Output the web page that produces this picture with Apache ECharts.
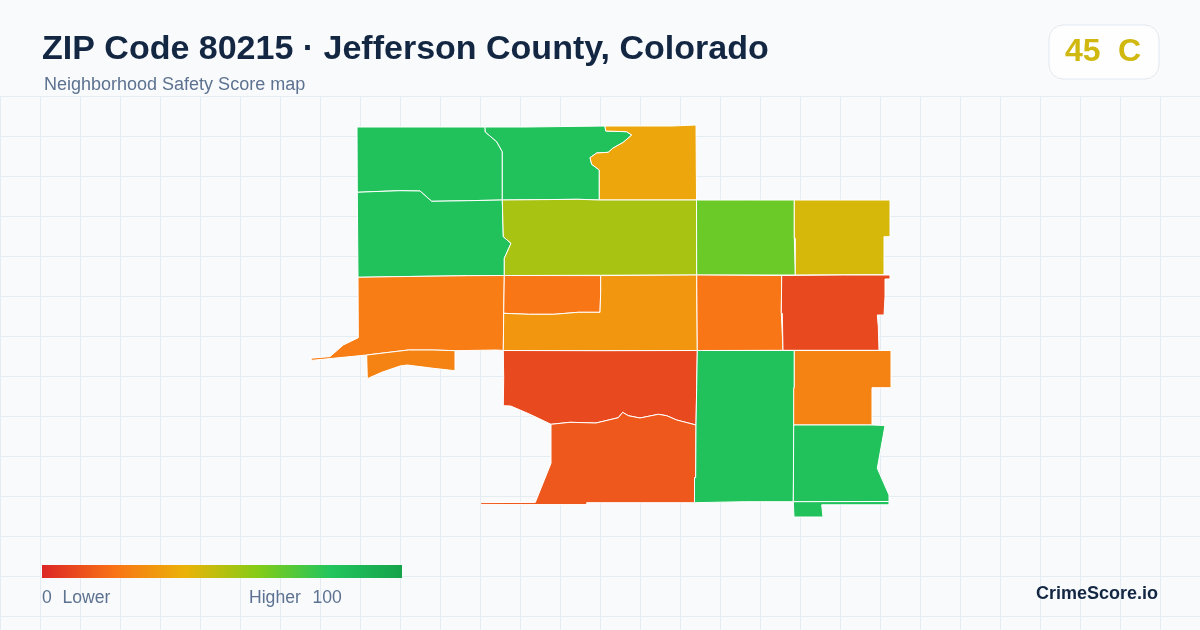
<!DOCTYPE html>
<html>
<head>
<meta charset="utf-8">
<title>ZIP Code 80215 Neighborhood Safety Score</title>
<script src="https://cdn.jsdelivr.net/npm/echarts@6/dist/echarts.min.js"></script>
<style>
    html, body { margin: 0; padding: 0; background: #f8fafc; }
    #page { position: relative; width: 1200px; height: 630px; overflow: hidden; }
    /* 배경 격자 */
    #gridBg {
        position: absolute; left: 0; top: 96px; width: 1200px; height: 534px;
        background-image:
            linear-gradient(to right, #e6edf2 1px, transparent 1px),
            linear-gradient(to bottom, #e6edf2 1px, transparent 1px);
        background-size: 40px 40px;
    }
    #mapChart { position: absolute; left: 0; top: 0; width: 1200px; height: 630px; }
</style>
</head>
<body>
<div id="page">
    <div id="gridBg"></div>
    <div id="mapChart"></div>
</div>
<script>
const titleText = 'ZIP Code 80215 · Jefferson County, Colorado';
const subtitleText = 'Neighborhood Safety Score map';
const overallScore = '45';
const overallGrade = 'C';
const scaleMin = 0;
const scaleMax = 100;
const scaleColors = ['#dc2626', '#f97316', '#eab308', '#84cc16', '#22c55e', '#16a34a'];

const tractNames = ['NW', 'N', 'NE', 'WC', 'C', 'EC1', 'EC2', 'W', 'WS', 'CS1', 'CS2', 'ES1', 'ES2',
    'S1', 'S2', 'SC', 'SE1', 'SE2', 'SE3'];
const tractScores = [82, 82, 36, 82, 53, 65, 44, 23, 25, 21, 31, 21, 9, 9, 13, 82, 25, 82, 82];

// 그림에서 따온 경계선
const tractOutlines = [
    [[357,127],[485,127],[485.3,132],[496.7,141.7],[502.3,151.7],[502.3,200],[468.3,200.7],[431.7,201.3],[420,191],[400,190.7],[371.7,191.7],[357.3,192.3]],
    [[485,127],[526,127],[526,126],[605,126],[605.7,131],[626.7,131.7],[631.7,135],[623.3,142.3],[612.7,148.3],[608.3,152.3],[596.7,153],[590,157.7],[591.7,164.3],[599.3,170],[599.3,200],[578.3,199.3],[502.3,200],[502.3,151.7],[496.7,141.7],[485.3,132]],
    [[605,126],[672,126],[672,125],[696,125],[696.5,200],[599.3,200],[599.3,170],[591.7,164.3],[590,157.7],[596.7,153],[608.3,152.3],[612.7,148.3],[623.3,142.3],[631.7,135],[626.7,131.7],[605.7,131]],
    [[357.3,192.3],[371.7,191.7],[400,190.7],[420,191],[431.7,201.3],[468.3,200.7],[502.3,200],[502.7,215],[503.3,236.7],[511,243.3],[504.3,258.3],[504.3,275.5],[468.3,275.7],[394.3,276.7],[358,277.3]],
    [[502.3,200],[578.3,199.3],[599.3,200],[696.5,200],[696.7,275],[504.3,275.5],[504.3,258.3],[511,243.3],[503.3,236.7],[502.7,215]],
    [[696.5,200],[749.3,200],[794.3,200],[794.3,238.3],[795.3,238.3],[795.3,275],[696.7,275]],
    [[794.3,200],[890,200],[890,236.7],[884,236.7],[884,274.7],[795.3,275],[795.3,238.3],[794.3,238.3]],
    [[358,277.3],[394.3,276.7],[468.3,275.7],[504.3,275.5],[503.7,313.3],[503.3,350.5],[496.7,350],[455,350.7],[433.3,350],[408.3,350],[400,351],[366.7,355],[330,358.6],[311.2,360.4],[311.2,358.2],[330,356.6],[343.3,345],[358.3,337.7]],
    [[366.7,355],[400,351],[408.3,350],[433.3,350],[455,350.7],[455,370.7],[433.3,368.3],[407.3,365],[400,366],[381.7,372.3],[367.3,378.7]],
    [[504.3,275.5],[600.7,275.6],[600.7,292],[600,312.3],[578.3,312.3],[553.7,314.3],[528.7,314.3],[503.7,313.3]],
    [[600.7,275.6],[696.7,275],[697,312],[697.3,350.5],[600,350.7],[503.3,350.5],[503.7,313.3],[528.7,314.3],[553.7,314.3],[578.3,312.3],[600,312.3],[600.7,292]],
    [[696.7,275],[781.7,275.5],[781.3,312.7],[782.3,313.3],[783,350.3],[697.3,350.5],[697,312]],
    [[781.7,275.5],[843.3,275],[890,275],[890,279],[885,279],[885,296.7],[884,296.7],[884,315],[877.3,315],[878.3,326.7],[879,350.3],[783,350.3],[782.3,313.3],[781.3,312.7]],
    [[503.3,350.5],[600,350.7],[697.3,350.5],[696.7,386.7],[696,425],[676.7,420],[666.7,415.7],[658.3,414.3],[640,418],[628.3,415.7],[622.7,412.3],[618.3,417.7],[596,423],[585,422.7],[570,422.3],[551,424.3],[530,414.3],[510.7,406],[503.3,405.7],[503.7,378]],
    [[551,424.3],[570,422.3],[585,422.7],[596,423],[618.3,417.7],[622.7,412.3],[628.3,415.7],[640,418],[658.3,414.3],[666.7,415.7],[676.7,420],[696,425],[695.7,477.7],[694.5,477.7],[694.5,502.7],[586.7,502.7],[586.7,504.6],[480.6,504.6],[480.6,502.6],[535.3,502.4],[551,463.3]],
    [[697.3,350.5],[794.3,350.5],[794.3,387.7],[793.7,387.7],[793.3,501.7],[744.3,501.7],[744.3,502.7],[694.5,502.7],[694.5,477.7],[695.7,477.7],[696,425],[696.7,386.7]],
    [[794.3,350.5],[891,350.5],[891,387.7],[872,387.7],[872,425],[793.7,425],[793.7,387.7],[794.3,387.7]],
    [[793.7,425],[872,425],[885,425.5],[877.3,468.3],[889,495],[889,501.5],[793.3,501.7]],
    [[793.3,501.7],[889,501.5],[889,504.8],[821.7,504.8],[823,517],[794,517]]
];

const mapChartInstance = echarts.init(document.getElementById('mapChart'), null, { renderer: 'canvas' });

const tractFeatures = tractNames.map((name, i) => ({
    type: 'Feature',
    properties: { name },
    geometry: { type: 'Polygon', coordinates: [tractOutlines[i]] }
}));
echarts.registerMap('zip80215', { type: 'FeatureCollection', features: tractFeatures });

const sansFont = '"Liberation Sans", Arial, sans-serif';
const mutedText = '#5d7290';

// 범례 막대는 지도와 같은 색 구간을 사용
const legendStops = scaleColors.map((color, i) => ({ offset: i / (scaleColors.length - 1), color }));

mapChartInstance.setOption({
    animation: false,
    backgroundColor: 'transparent',
    title: [
        {
            text: titleText,
            left: 42, top: 33, padding: 0,
            textStyle: { fontFamily: sansFont, fontSize: 34, fontWeight: 'bold', color: '#132743' }
        },
        {
            text: subtitleText,
            left: 44, top: 76, padding: 0,
            textStyle: { fontFamily: sansFont, fontSize: 18, fontWeight: 'normal', color: mutedText }
        }
    ],
    visualMap: {
        type: 'continuous',
        show: false,
        min: scaleMin,
        max: scaleMax,
        inRange: { color: scaleColors }
    },
    graphic: [
        {
            type: 'rect', left: 1048.5, top: 24.5, silent: true,
            shape: { width: 110, height: 54, r: 14 },
            style: { fill: '#fefefe', stroke: '#e2e8f0', lineWidth: 1 }
        },
        {
            type: 'text', left: 1065, top: 36, silent: true,
            style: { text: overallScore, font: 'bold 32px ' + sansFont, fill: '#d0b80f' }
        },
        {
            type: 'text', left: 1118, top: 36, silent: true,
            style: { text: overallGrade, font: 'bold 32px ' + sansFont, fill: '#d0b80f' }
        },
        {
            type: 'rect', left: 42, top: 565, silent: true,
            shape: { width: 360, height: 13 },
            style: { fill: new echarts.graphic.LinearGradient(0, 0, 1, 0, legendStops) }
        },
        {
            type: 'text', left: 42, top: 589, silent: true,
            style: { text: String(scaleMin), font: '17.6px ' + sansFont, fill: mutedText }
        },
        {
            type: 'text', left: 62.5, top: 589, silent: true,
            style: { text: 'Lower', font: '17.6px ' + sansFont, fill: mutedText }
        },
        {
            type: 'text', left: 249, top: 589, silent: true,
            style: { text: 'Higher', font: '17.6px ' + sansFont, fill: mutedText }
        },
        {
            type: 'text', left: 312.5, top: 589, silent: true,
            style: { text: String(scaleMax), font: '17.6px ' + sansFont, fill: mutedText }
        },
        {
            type: 'text', right: 42, top: 585, silent: true,
            style: { text: 'CrimeScore.io', font: 'bold 18px ' + sansFont, fill: '#132743' }
        }
    ],
    series: [{
        type: 'map',
        map: 'zip80215',
        roam: false,
        silent: true,
        left: 311.2,
        top: 125,
        width: 579.8,
        height: 392,
        projection: { project: (p) => p, unproject: (p) => p },
        label: { show: false },
        itemStyle: { borderColor: '#ffffff', borderWidth: 1 },
        data: tractNames.map((name, i) => ({ name, value: tractScores[i] }))
    }]
});
</script>
</body>
</html>
